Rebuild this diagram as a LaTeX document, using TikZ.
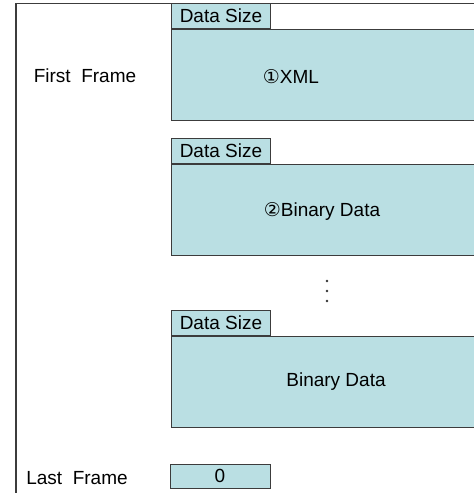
\documentclass[tikz,border=0pt]{standalone}
\usepackage{fontspec}
\setmainfont{Liberation Sans}
\newfontfamily\circfont{DejaVu Sans}
\usetikzlibrary{positioning}
\definecolor{framecyan}{RGB}{186,223,227}
\definecolor{edgegray}{RGB}{60,60,60}

\begin{document}
\begin{tikzpicture}[x=1pt,y=-1pt,
    txt/.style={font=\fontsize{19}{22}\selectfont},
    sizebox/.style={draw=edgegray, fill=framecyan, line width=0.9pt,
        minimum width=99pt, minimum height=25pt, inner sep=0pt, txt},
    databox/.style={draw=edgegray, fill=framecyan, line width=0.9pt,
        minimum width=306pt, minimum height=91pt, inner sep=0pt, anchor=north west}]
    \useasboundingbox (0,0) rectangle (474,493);

    % outer frame
    \draw[edgegray, line width=1.2pt] (16,493) -- (16,3.5) -- (480,3.5);

    % frames with their size field
    \foreach \name/\y in {xml/29, bin/164, tail/336} {
        \node[databox] (\name) at (171,\y) {};
        \node[sizebox, anchor=south west] (\name size) at (\name.north west) {Data Size};
    }
    \node[txt] (xmltxt) at (291,77) {{\circfont\fontsize{19}{22}\selectfont ①}XML};
    \node[txt] (bintxt) at (322,211) {{\circfont\fontsize{19}{22}\selectfont ②}Binary Data};
    \node[txt] (tailtxt) at (336,382) {Binary Data};

    % more frames
    \foreach \y in {281,291,301} {
        \fill[black!80] (327,\y) circle (1.3);
    }

    % labels on the left
    \node[txt] (first) at (85,76) {First~~Frame};
    \node[txt] (last) at (77,478) {Last~~Frame};
    \node[sizebox, minimum width=100pt, minimum height=24pt] (zero) at (220,476) {0};
\end{tikzpicture}
\end{document}
